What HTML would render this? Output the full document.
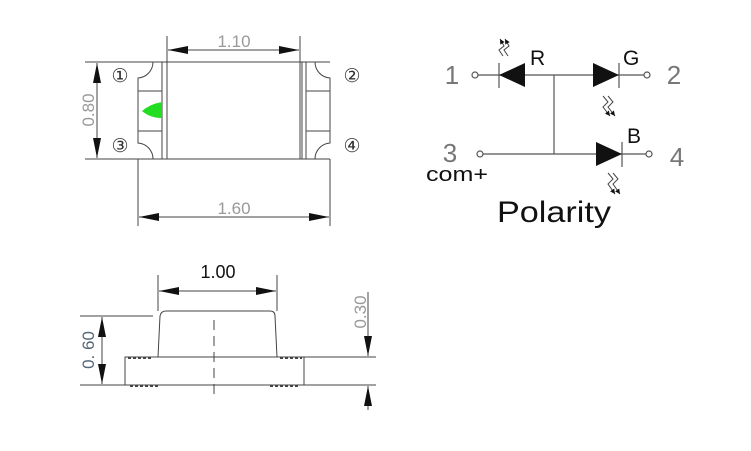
<!DOCTYPE html>
<html><head><meta charset="utf-8"><style>
html,body{margin:0;padding:0;background:#fff;}
svg{display:block;}
text{font-family:"Liberation Sans",sans-serif;}
</style></head><body>
<svg width="751" height="451" viewBox="0 0 751 451" xmlns="http://www.w3.org/2000/svg">
<defs>
<marker id="ah" viewBox="0 0 10 10" refX="10" refY="5" markerWidth="20" markerHeight="8" markerUnits="userSpaceOnUse" orient="auto-start-reverse" preserveAspectRatio="none"><path d="M0,0 L10,5 L0,10z" fill="#111"/></marker>
<marker id="sa" viewBox="0 0 10 10" refX="10" refY="5" markerWidth="5" markerHeight="5" markerUnits="userSpaceOnUse" orient="auto"><path d="M0,0 L10,5 L0,10z" fill="#111"/></marker>
</defs>
<g stroke="#444" stroke-width="1" fill="none">
<line x1="138" y1="62" x2="330" y2="62"/>
<line x1="138" y1="159" x2="330" y2="159"/>
<line x1="162" y1="62" x2="162" y2="159"/>
<line x1="167" y1="62" x2="167" y2="159"/>
<line x1="300" y1="62" x2="300" y2="159"/>
<line x1="302" y1="62" x2="302" y2="159"/>
<line x1="306" y1="62" x2="306" y2="159"/>
<path d="M153,62 A16,16 0 0 1 138,78 L138,143 A16,16 0 0 1 153,159"/>
<line x1="138" y1="91" x2="162" y2="91"/>
<line x1="138" y1="131" x2="162" y2="131"/>
<path d="M315,62 A16,16 0 0 0 330,78 L330,143 A16,16 0 0 0 315,159"/>
<line x1="306" y1="91" x2="330" y2="91"/>
<line x1="306" y1="131" x2="330" y2="131"/>
<line x1="167" y1="36" x2="167" y2="62"/>
<line x1="300" y1="36" x2="300" y2="62"/>
<line x1="168" y1="50" x2="299" y2="50" marker-start="url(#ah)" marker-end="url(#ah)"/>
<line x1="85" y1="62" x2="150" y2="62"/>
<line x1="85" y1="159" x2="150" y2="159"/>
<line x1="97" y1="63" x2="97" y2="158" marker-start="url(#ah)" marker-end="url(#ah)"/>
<line x1="138" y1="159" x2="138" y2="226"/>
<line x1="330" y1="159" x2="330" y2="226"/>
<line x1="139" y1="217" x2="329" y2="217" marker-start="url(#ah)" marker-end="url(#ah)"/>
</g>
<path d="M142,111 Q150,104 162,102 L162,118 Q150,118 142,111z" fill="#22dd22"/>
<g fill="#999" font-size="17">
<text x="234" y="47" text-anchor="middle">1.10</text>
<text x="234" y="214" text-anchor="middle">1.60</text>
<text transform="translate(94,110) rotate(-90)" text-anchor="middle">0.80</text>
</g>
<g fill="#333" font-size="19" style="font-family:'DejaVu Sans',sans-serif">
<text x="120" y="82" text-anchor="middle">①</text>
<text x="120" y="152" text-anchor="middle">③</text>
<text x="352" y="82" text-anchor="middle">②</text>
<text x="352" y="152" text-anchor="middle">④</text>
</g>

<g stroke="#555" stroke-width="1.2" fill="none">
<circle cx="475" cy="75" r="3"/>
<line x1="478" y1="75" x2="644" y2="75"/>
<circle cx="647" cy="75" r="3"/>
<line x1="554" y1="75" x2="554" y2="154"/>
<circle cx="480" cy="154" r="3"/>
<line x1="483" y1="154" x2="646" y2="154"/>
<circle cx="649" cy="154" r="3"/>
<line x1="499" y1="63" x2="499" y2="88"/>
<line x1="619" y1="63" x2="619" y2="88"/>
<line x1="622" y1="142" x2="622" y2="167"/>
</g>
<path d="M499,75 L525,63 L525,87z" fill="#111"/>
<path d="M619,75 L593,63 L593,87z" fill="#111"/>
<path d="M622,154 L596,142 L596,166z" fill="#111"/>
<g stroke="#444" stroke-width="1" fill="none">
<path d="M503,56 L499,50 L504,46 L500,39" marker-end="url(#sa)"/>
<path d="M508,56 L504,50 L509,46 L505,39" marker-end="url(#sa)"/>
<path d="M603,96 L608,102 L603,107 L610,116" marker-end="url(#sa)"/>
<path d="M608,96 L613,102 L608,107 L615,116" marker-end="url(#sa)"/>
<path d="M608,173 L613,179 L608,184 L615,194" marker-end="url(#sa)"/>
<path d="M613,173 L618,179 L613,184 L620,194" marker-end="url(#sa)"/>
</g>
<g fill="#777" font-size="26">
<text x="452" y="84" text-anchor="middle">1</text>
<text x="674" y="84" text-anchor="middle">2</text>
<text x="450" y="162" text-anchor="middle">3</text>
<text x="677" y="166" text-anchor="middle">4</text>
</g>
<g fill="#111">
<text x="530" y="65" font-size="21">R</text>
<text x="623" y="65" font-size="21">G</text>
<text x="627" y="143" font-size="21">B</text>
<text x="426" y="181" font-size="20" textLength="62" lengthAdjust="spacingAndGlyphs">com+</text>
<text x="497" y="222" font-size="30" textLength="114" lengthAdjust="spacingAndGlyphs">Polarity</text>
</g>

<g stroke="#444" stroke-width="1" fill="none">
<path d="M158,357 L160,316 Q161,311 166,311 L270,311 Q275,311 275,316 L277,357"/>
<rect x="125" y="357" width="179" height="28"/>
<line x1="214" y1="320" x2="214" y2="395" stroke-dasharray="10,6"/>
<line x1="158" y1="275" x2="158" y2="311"/>
<line x1="277" y1="275" x2="277" y2="311"/>
<line x1="159" y1="291" x2="276" y2="291" marker-start="url(#ah)" marker-end="url(#ah)"/>
<line x1="80" y1="316" x2="153" y2="316"/>
<line x1="80" y1="385" x2="125" y2="385"/>
<line x1="102" y1="317" x2="102" y2="384" marker-start="url(#ah)" marker-end="url(#ah)"/>
<line x1="304" y1="357" x2="376" y2="357"/>
<line x1="304" y1="385" x2="376" y2="385"/>
<line x1="368" y1="292" x2="368" y2="356" marker-end="url(#ah)"/>
<line x1="368" y1="410" x2="368" y2="386" marker-end="url(#ah)"/>
<line x1="128" y1="358" x2="152" y2="358" stroke-dasharray="3,2" stroke-width="2"/>
<line x1="280" y1="358" x2="302" y2="358" stroke-dasharray="3,2" stroke-width="2"/>
<line x1="130" y1="386" x2="158" y2="386" stroke-dasharray="3,2" stroke-width="2"/>
<line x1="270" y1="386" x2="298" y2="386" stroke-dasharray="3,2" stroke-width="2"/>
</g>
<text x="218" y="278" font-size="18" fill="#111" text-anchor="middle">1.00</text>
<text transform="translate(94,350) rotate(-90)" font-size="17" fill="#556677" text-anchor="middle">0. 60</text>
<text transform="translate(366,312) rotate(-90)" font-size="17" fill="#999" text-anchor="middle">0.30</text>
</svg>
</body></html>
